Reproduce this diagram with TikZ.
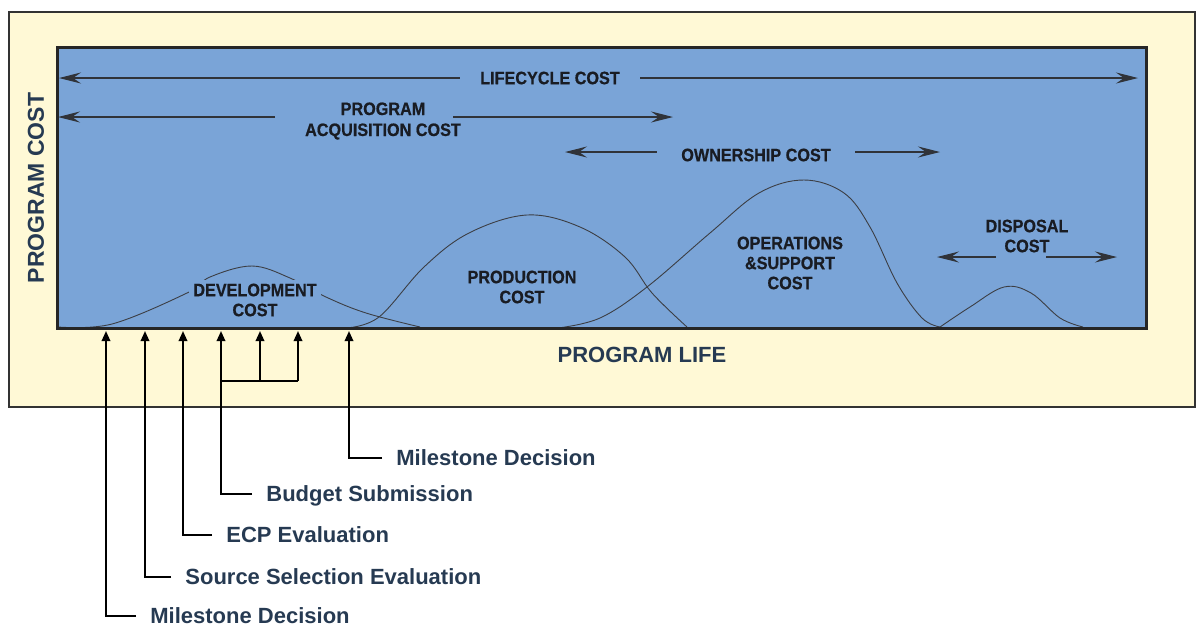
\documentclass[tikz,border=0pt]{standalone}
\usepackage{fontspec}
\setmainfont{Liberation Sans}
\newfontfamily\narrowsans[FakeStretch=0.9,FakeBold=0.6]{Liberation Sans}
\usetikzlibrary{arrows.meta}
\definecolor{paleyellow}{RGB}{255,249,214}
\definecolor{boxblue}{RGB}{122,164,215}
\definecolor{slate}{RGB}{38,58,82}
\definecolor{inkdark}{RGB}{25,28,35}
\tikzset{
  costlabel/.style={font=\narrowsans\bfseries\fontsize{9}{10}\selectfont,text=inkdark,align=center,inner sep=1pt},
  spanarrow/.style={draw=inkdark!90,line width=0.55pt,-{Stealth[length=11pt,width=5.5pt,inset=4pt]}},
  costcurve/.style={draw=inkdark!85,line width=0.45pt},
  eventlabel/.style={font=\bfseries\fontsize{11}{13}\selectfont,text=slate,anchor=west,
    text height=7.9pt,text depth=0pt,inner ysep=0pt,inner xsep=7pt},
  eventarrow/.style={draw=black,line width=1pt,-{Triangle[length=5pt,width=4.2pt]}},
}
\begin{document}
\begin{tikzpicture}[x=0.5pt,y=-0.5pt]
\useasboundingbox (0,0) rectangle (1200,633);

\draw[line width=1pt,black!80,fill=paleyellow] (9,12) rectangle (1195,407);
\fill[boxblue] (57,47) rectangle (1146,328);

%---------------------------------------------------
\draw[costcurve] plot[smooth,tension=0.6] coordinates {(58,327) (112,324) (187,293) (210,277) (252,266) (290,278) (326,297) (366,313) (420,327)};
\draw[costcurve] plot[smooth,tension=0.6] coordinates {(346,328) (379,317) (424,267) (469,233) (527,215) (580,227) (625,257) (652,293) (687,327)};
\draw[costcurve] plot[smooth,tension=0.6] coordinates {(558,328) (600,318) (647,287) (710,233) (759,193) (804,180) (844,193) (870,227) (897,283) (922,318) (940,327)};
\draw[costcurve] plot[smooth,tension=0.6] coordinates {(940,327) (970,307) (1004,287) (1031,293) (1060,318) (1083,327)};

\draw[line width=1.5pt,black!85] (57,47) rectangle (1146,328);

%---------------------------------------------------
\node[costlabel,inner xsep=10pt] (lc) at (550,78) {LIFECYCLE COST};
\node[costlabel,font=\narrowsans\bfseries\fontsize{9}{10.5}\selectfont] (pac) at (383,121) {PROGRAM\\ACQUISITION COST};
\node[costlabel,inner xsep=12pt] (own) at (756,155) {OWNERSHIP COST};
\node[costlabel,fill=boxblue,inner sep=2pt] (dev) at (255,300) {DEVELOPMENT\\COST};
\node[costlabel] (prod) at (522,287) {PRODUCTION\\COST};
\node[costlabel] (ops) at (790,263) {OPERATIONS\\\&SUPPORT\\COST};
\node[costlabel] (disp) at (1027,236) {DISPOSAL\\COST};

\coordinate (lcW) at (59,78);
\coordinate (lcE) at (1138,78);
\coordinate (pacW) at (58,117);
\coordinate (pacL) at (275,117);
\coordinate (pacR) at (453,117);
\coordinate (pacE) at (673,117);
\coordinate (ownW) at (565,152);
\coordinate (ownE) at (940,152);
\coordinate (dspW) at (937,257);
\coordinate (dspL) at (996,257);
\coordinate (dspR) at (1046,257);
\coordinate (dspE) at (1117,257);

\draw[spanarrow] (lc.west) -- (lcW);
\draw[spanarrow] (lc.east) -- (lcE);
\draw[spanarrow] (pacL) -- (pacW);
\draw[spanarrow] (pacR) -- (pacE);
\draw[spanarrow] (own.west |- ownW) -- (ownW);
\draw[spanarrow] (own.east |- ownE) -- (ownE);
\draw[spanarrow] (dspL) -- (dspW);
\draw[spanarrow] (dspR) -- (dspE);

%---------------------------------------------------
\node[rotate=90,font=\bfseries\fontsize{11.5}{13}\selectfont,text=slate] (pcost) at (36,188) {PROGRAM COST};
\node[font=\bfseries\fontsize{11}{13}\selectfont,text=slate] (plife) at (642,355) {PROGRAM LIFE};

%---------------------------------------------------
\node[eventlabel] (ms1) at (136,616) {Milestone Decision};
\node[eventlabel] (sse) at (171,577) {Source Selection Evaluation};
\node[eventlabel] (ecp) at (212,535) {ECP Evaluation};
\node[eventlabel] (bud) at (252,494) {Budget Submission};
\node[eventlabel] (ms2) at (382,458) {Milestone Decision};

\coordinate (t1) at (106,331);
\coordinate (t2) at (145,331);
\coordinate (t3) at (183,331);
\coordinate (t4) at (221,331);
\coordinate (t5) at (260,331);
\coordinate (t6) at (298,331);
\coordinate (t7) at (349,331);
\coordinate (brk) at (298,381);

\draw[eventarrow] (ms1.west) -| (t1);
\draw[eventarrow] (sse.west) -| (t2);
\draw[eventarrow] (ecp.west) -| (t3);
\draw[eventarrow] (bud.west) -| (t4);
\draw[line width=1pt] (t4 |- brk) -- (brk);
\draw[eventarrow] (t5 |- brk) -- (t5);
\draw[eventarrow] (brk) -- (t6);
\draw[eventarrow] (ms2.west) -| (t7);
\end{tikzpicture}
\end{document}
